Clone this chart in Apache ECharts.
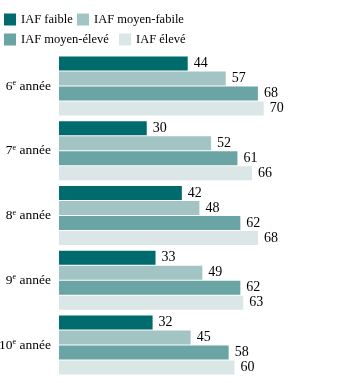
<!DOCTYPE html>
<html>
<head>
<meta charset="utf-8">
<script src="https://cdn.jsdelivr.net/npm/echarts@6/dist/echarts.min.js"></script>
<style>
  html, body { margin: 0; padding: 0; background: #fff; }
  #main { width: 350px; height: 383px; }
</style>
</head>
<body>
<div id="main"></div>
<script>
// niveaux scolaires (axe des catégories)
var grades = ['6', '7', '8', '9', '10'];
var seriesNames = ['IAF faible', 'IAF moyen-fabile', 'IAF moyen-élevé', 'IAF élevé'];
// valeurs
var faible = [44, 30, 42, 33, 32];
var moyenFaible = [57, 52, 48, 49, 45];
var moyenEleve = [68, 61, 62, 62, 58];
var eleve = [70, 66, 68, 63, 60];

var colors = ['#006b6d', '#a2c4c4', '#6ba4a4', '#dbe6e6'];
var font = 'Liberation Serif';

var myChart = echarts.init(document.getElementById('main'));

var values = [faible, moyenFaible, moyenEleve, eleve];
var series = seriesNames.map(function (name, i) {
  return {
    name: name,
    type: 'bar',
    data: values[i],
    barWidth: 14,
    barGap: '7%',
    itemStyle: { color: colors[i] },
    label: {
      show: true,
      position: 'right',
      distance: 6,
      color: '#000',
      fontFamily: font,
      fontSize: 14
    }
  };
});

// une légende par élément pour reproduire la disposition en 2 lignes
var legendPos = [[4, 13], [77, 13], [4, 33], [119, 33]];
var legends = seriesNames.map(function (name, i) {
  return {
    data: [name],
    left: legendPos[i][0],
    top: legendPos[i][1],
    icon: 'rect',
    itemWidth: 12,
    itemHeight: 12,
    padding: 0,
    selectedMode: false,
    textStyle: { fontFamily: font, fontSize: 12.5, color: '#000' }
  };
});

var option = {
  animation: false,
  legend: legends,
  grid: {
    left: 59, right: 57, top: 53.6, bottom: 5.6,
    containLabel: false,
    outerBoundsMode: 'none'
  },
  xAxis: {
    type: 'value',
    min: 0,
    max: 80,
    show: false,
    splitLine: { show: false }
  },
  yAxis: {
    type: 'category',
    data: grades,
    inverse: true,
    axisLine: { show: false },
    axisTick: { show: false },
    axisLabel: {
      margin: 8,
      formatter: function (v) {
        return '{n|' + v + '}{s|e}{n| année}';
      },
      rich: {
        n: { fontFamily: font, fontSize: 13.5, color: '#000' },
        s: { fontFamily: font, fontSize: 8, color: '#000', padding: [0, 0, 6, 0] }
      }
    }
  },
  series: series
};

myChart.setOption(option);
</script>
</body>
</html>
